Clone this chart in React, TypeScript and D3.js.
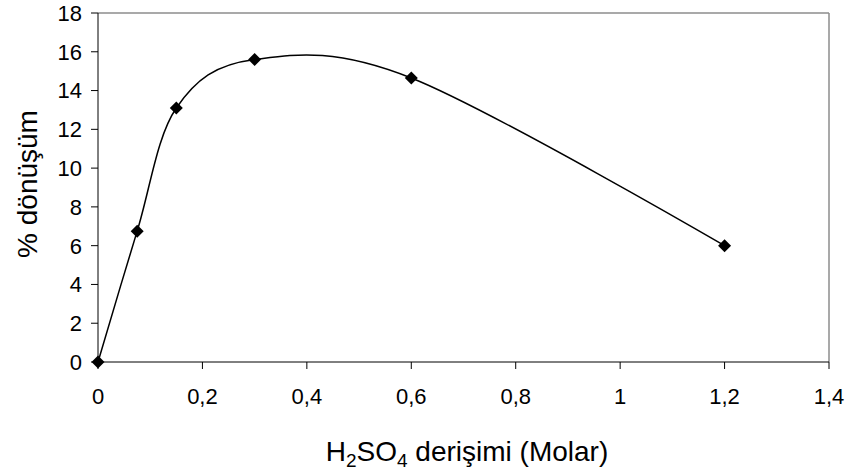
import React from 'react';
import * as d3 from 'd3';

const concentration = [0, 0.075, 0.15, 0.3, 0.6, 1.2];
const conversion = [0, 6.75, 13.1, 15.6, 14.65, 6];
const xTicks = [0, 0.2, 0.4, 0.6, 0.8, 1, 1.2, 1.4];
const yTicks = [0, 2, 4, 6, 8, 10, 12, 14, 16, 18];

const width = 851;
const height = 472;
const margin = { top: 13, right: 22, bottom: 110, left: 98 };

const fmt = (v: number) => String(v).replace('.', ',');

export default function App() {
  const innerW = width - margin.left - margin.right;
  const innerH = height - margin.top - margin.bottom;

  const x = d3.scaleLinear().domain([0, 1.4]).range([margin.left, margin.left + innerW]);
  const y = d3.scaleLinear().domain([0, 18]).range([margin.top + innerH, margin.top]);

  const pts = concentration.map((c, i) => [c, conversion[i]] as [number, number]);
  const line = d3
    .line<[number, number]>()
    .x(d => x(d[0]))
    .y(d => y(d[1]))
    .curve(d3.curveCardinal.tension(0));

  const x0 = x(0);
  const x1 = x(1.4);
  const y0 = y(0);
  const y1 = y(18);

  return (
    <svg
      width={width}
      height={height}
      style={{ position: 'absolute', left: 0, top: 0, background: '#fff' }}
      fontFamily="Liberation Sans, Arial, sans-serif"
    >
      {/* frame: gray top/right, black axes */}
      <line x1={x0} x2={x1} y1={y1} y2={y1} stroke="#8c8c8c" strokeWidth={1.5} />
      <line x1={x1} x2={x1} y1={y1} y2={y0} stroke="#8c8c8c" strokeWidth={1.5} />
      <line x1={x0} x2={x0} y1={y1} y2={y0} stroke="#000" strokeWidth={1} />
      <line x1={x0} x2={x1} y1={y0} y2={y0} stroke="#000" strokeWidth={1} />

      {yTicks.map(t => (
        <g key={'y' + t}>
          <line x1={x0 - 7} x2={x0} y1={y(t)} y2={y(t)} stroke="#000" />
          <text x={x0 - 16} y={y(t)} dy="0.36em" textAnchor="end" fontSize={22}>
            {t}
          </text>
        </g>
      ))}

      {xTicks.map(t => (
        <g key={'x' + t}>
          <line x1={x(t)} x2={x(t)} y1={y0} y2={y0 + 7} stroke="#000" />
          <text x={x(t)} y={y0 + 42} textAnchor="middle" fontSize={22}>
            {fmt(t)}
          </text>
        </g>
      ))}

      <path d={line(pts) || ''} fill="none" stroke="#000" strokeWidth={1.5} />

      {pts.map((p, i) => (
        <path
          key={'m' + i}
          d="M0,-6.5L6.5,0L0,6.5L-6.5,0Z"
          transform={`translate(${x(p[0])},${y(p[1])})`}
          fill="#000"
        />
      ))}

      <text
        transform={`translate(37,184) rotate(-90)`}
        textAnchor="middle"
        fontSize={28}
      >
        % dönüşüm
      </text>

      <text x={467} y={461} textAnchor="middle" fontSize={28}>
        H<tspan fontSize={19} dy={6}>2</tspan>
        <tspan dy={-6}>SO</tspan>
        <tspan fontSize={19} dy={6}>4</tspan>
        <tspan dy={-6}> derişimi (Molar)</tspan>
      </text>
    </svg>
  );
}
